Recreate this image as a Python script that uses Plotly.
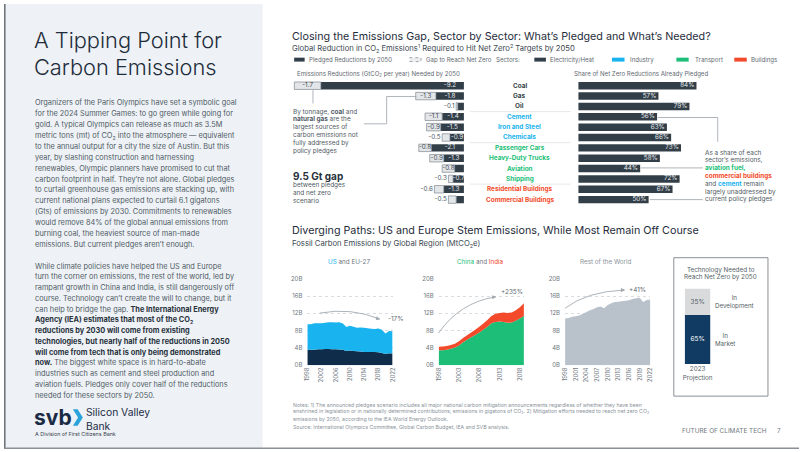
import plotly.graph_objects as go

W, H = 802, 452
def X(px): return px / W
def Y(py): return 1 - py / H

# ---------------- data ----------------
rows = ["Coal", "Gas", "Oil", "Cement", "Iron and Steel", "Chemicals",
        "Passenger Cars", "Heavy-Duty Trucks", "Aviation", "Shipping",
        "Residential Buildings", "Commercial Buildings"]
row_sector = ["Electricity/Heat"] * 3 + ["Industry"] * 3 + ["Transport"] * 4 + ["Buildings"] * 2
pledged = [9.2, 1.8, 0.4, 1.4, 1.5, 0.9, 2.1, 1.3, 0.6, 0.7, 1.3, 0.5]
gap = [1.7, 1.3, 0.1, 1.1, 0.9, 0.5, 0.8, 0.9, 0.8, 0.3, 0.6, 0.5]
share_pledged = [84, 57, 79, 56, 63, 66, 73, 58, 44, 72, 67, 50]

years_us_eu = list(range(1998, 2023))
eu27 = [3.6, 3.6, 3.6, 3.7, 3.7, 3.75, 3.75, 3.7, 3.7, 3.65, 3.6, 3.3, 3.4, 3.3, 3.25,
        3.2, 3.05, 3.1, 3.1, 3.1, 3.0, 2.85, 2.6, 2.8, 2.75]
us = [5.9, 5.9, 6.1, 6.0, 6.0, 6.05, 6.2, 6.25, 6.2, 6.3, 6.05, 5.55, 5.75, 5.6, 5.45,
      5.55, 5.6, 5.45, 5.35, 5.3, 5.5, 5.35, 4.75, 5.15, 5.1]

years_cn_in = list(range(1998, 2020))
china = [3.5, 3.5, 3.6, 3.8, 4.1, 4.6, 5.3, 5.9, 6.5, 7.0, 7.6, 8.2, 8.9, 9.7, 10.0,
         10.1, 10.0, 9.8, 9.9, 10.3, 10.8, 11.4]
india = [0.8, 0.85, 0.85, 0.9, 0.9, 0.95, 1.0, 1.05, 1.1, 1.2, 1.3, 1.45, 1.55, 1.7,
         1.9, 2.0, 2.2, 2.3, 2.3, 2.4, 2.6, 2.9]

years_row = list(range(1998, 2023))
rest_world = [10.8, 10.9, 11.2, 11.3, 11.5, 11.9, 12.3, 12.7, 13.0, 13.4, 13.6, 13.2,
              13.9, 14.3, 14.6, 14.7, 14.8, 14.9, 15.0, 15.3, 15.5, 15.6, 14.6, 15.1, 15.2]

tech_cats = ["2023<br>Projection"]
in_market = [65]
in_development = [35]

# ---------------- styles ----------------
BODY = "Inter"
DARK = "#323f49"
NAVY = "#0f2d4a"
NAVY2 = "#123b63"
LBLUE = "#19b3ef"
GREEN = "#1dbf78"
RED = "#f24a2a"
GRAYAREA = "#b9c2cb"
TXT = "#4f5a64"
TITLE = "#1f2d3b"
sector_color = {"Electricity/Heat": "#333f48", "Industry": LBLUE,
                "Transport": GREEN, "Buildings": RED}

fig = go.Figure()

# ---------- left bar chart: reductions ----------
neg_p = [-v for v in pledged]
fig.add_trace(go.Bar(y=rows, x=neg_p, orientation="h", xaxis="x", yaxis="y",
                     marker=dict(color=DARK, line=dict(width=0)), width=0.72,
                     hoverinfo="skip", showlegend=False))
fig.add_trace(go.Bar(y=rows, x=[-v for v in gap], base=neg_p, orientation="h",
                     xaxis="x", yaxis="y", width=0.72,
                     marker=dict(color="#e3e6e9", line=dict(color="#7f878f", width=0.7)),
                     hoverinfo="skip", showlegend=False))
pl_rows = [r for r, p in zip(rows, pledged) if p >= 0.65]
pl_x = [-min(p, 1.8) / 2 for p in pledged if p >= 0.65]
pl_t = [f"-{p:.1f}" for p in pledged if p >= 0.65]
fig.add_trace(go.Scatter(y=pl_rows, x=pl_x, mode="text", text=pl_t, xaxis="x", yaxis="y",
                         textposition="middle center", cliponaxis=False,
                         textfont=dict(size=6.3, color="#e8ebee", family=BODY),
                         hoverinfo="skip", showlegend=False))
gi_rows = [r for r, g in zip(rows, gap) if g >= 0.8]
gi_x = [-(p + g / 2) for p, g in zip(pledged, gap) if g >= 0.8]
gi_t = [f"-{g:.1f}" for g in gap if g >= 0.8]
fig.add_trace(go.Scatter(y=gi_rows, x=gi_x, mode="text", text=gi_t, xaxis="x", yaxis="y",
                         textposition="middle center", cliponaxis=False,
                         textfont=dict(size=6.3, color="#3e4851", family=BODY),
                         hoverinfo="skip", showlegend=False))
go_rows = [r for r, g in zip(rows, gap) if g < 0.8]
go_x = [-(p + g) - 0.1 for p, g in zip(pledged, gap) if g < 0.8]
go_t = [f"-{g:.1f}" for g in gap if g < 0.8]
fig.add_trace(go.Scatter(y=go_rows, x=go_x, mode="text", text=go_t, xaxis="x", yaxis="y",
                         textposition="middle left", cliponaxis=False,
                         textfont=dict(size=6.3, color="#4a545d", family=BODY),
                         hoverinfo="skip", showlegend=False))

# ---------- right bar chart: share pledged ----------
fig.add_trace(go.Bar(y=rows, x=share_pledged, orientation="h", xaxis="x2", yaxis="y2",
                     marker=dict(color=DARK, line=dict(width=0)), width=0.72,
                     hoverinfo="skip", showlegend=False))
fig.add_trace(go.Scatter(y=rows, x=[s - 1.5 for s in share_pledged], mode="text",
                         text=[f"{s}%" for s in share_pledged], xaxis="x2", yaxis="y2",
                         textposition="middle left", cliponaxis=False,
                         textfont=dict(size=6.3, color="#e8ebee", family=BODY),
                         hoverinfo="skip", showlegend=False))

# ---------- area charts ----------
fig.add_trace(go.Scatter(x=years_us_eu, y=eu27, stackgroup="a", mode="none",
                         fillcolor=NAVY, xaxis="x3", yaxis="y3", hoverinfo="skip", showlegend=False))
fig.add_trace(go.Scatter(x=years_us_eu, y=us, stackgroup="a", mode="none",
                         fillcolor=LBLUE, xaxis="x3", yaxis="y3", hoverinfo="skip", showlegend=False))
fig.add_trace(go.Scatter(x=years_cn_in, y=china, stackgroup="b", mode="none",
                         fillcolor=GREEN, xaxis="x4", yaxis="y4", hoverinfo="skip", showlegend=False))
fig.add_trace(go.Scatter(x=years_cn_in, y=india, stackgroup="b", mode="none",
                         fillcolor=RED, xaxis="x4", yaxis="y4", hoverinfo="skip", showlegend=False))
fig.add_trace(go.Scatter(x=years_row, y=rest_world, stackgroup="c", mode="none",
                         fillcolor=GRAYAREA, xaxis="x5", yaxis="y5", hoverinfo="skip", showlegend=False))

# ---------- tech stacked bar ----------
fig.add_trace(go.Bar(x=tech_cats, y=in_market, xaxis="x6", yaxis="y6", width=1,
                     marker=dict(color=NAVY2, line=dict(width=0)),
                     text=[f"{v}%" for v in in_market], textposition="inside",
                     insidetextanchor="middle", constraintext="none",
                     textfont=dict(size=6.5, color="#ffffff", family=BODY),
                     hoverinfo="skip", showlegend=False))
fig.add_trace(go.Bar(x=tech_cats, y=in_development, base=in_market, xaxis="x6", yaxis="y6", width=1,
                     marker=dict(color="#d9dadc", line=dict(width=0)),
                     text=[f"{v}%" for v in in_development], textposition="inside",
                     insidetextanchor="middle", constraintext="none",
                     textfont=dict(size=6.5, color="#555f68", family=BODY),
                     hoverinfo="skip", showlegend=False))

# ---------- axes ----------
row_top, row_bot = 77.74, 203.98
hidden = dict(visible=False, fixedrange=True)
cat_y = dict(type="category", categoryorder="array", categoryarray=rows,
             range=[11.5, -0.5], visible=False, fixedrange=True,
             domain=[Y(row_bot), Y(row_top)])
tickfont = dict(size=6, color="#6f7880", family=BODY)

def area_x(d0, d1, r, dtick):
    return dict(domain=[X(d0), X(d1)], range=r, tickmode="linear", tick0=1998, dtick=dtick,
                tickangle=-90, tickfont=tickfont, showgrid=False, zeroline=False,
                showline=False, ticks="", fixedrange=True)

def area_y(anchor):
    return dict(domain=[Y(367), Y(279)], range=[0, 20], tickvals=[0, 4, 8, 12, 16, 20],
                ticktext=["0B", "4B", "8B", "12B", "16B", "20B"], tickfont=tickfont,
                showgrid=True, gridcolor="#d9dde2", griddash="dot", gridwidth=0.7,
                zeroline=False, showline=False, ticks="", ticklabelstandoff=4,
                anchor=anchor, fixedrange=True)

fig.update_layout(
    width=W, height=H, margin=dict(l=0, r=0, t=0, b=0),
    paper_bgcolor="white", plot_bgcolor="rgba(0,0,0,0)",
    barmode="overlay", showlegend=False,
    font=dict(family=BODY, color=TXT),
    xaxis=dict(domain=[X(283.5), X(464)], range=[-11.5, 0], anchor="y", **hidden),
    yaxis=dict(anchor="x", **cat_y),
    xaxis2=dict(domain=[X(579.3), X(721.3)], range=[0, 100], anchor="y2", **hidden),
    yaxis2=dict(anchor="x2", **cat_y),
    xaxis3=dict(anchor="y3", **area_x(306, 392, [1998, 2022], 4)),
    yaxis3=area_y("x3"),
    xaxis4=dict(anchor="y4", **area_x(438.5, 524.5, [1998, 2019], 5)),
    yaxis4=area_y("x4"),
    xaxis5=dict(anchor="y5", **area_x(566, 652, [1998, 2022], 3)),
    yaxis5=area_y("x5"),
    xaxis6=dict(domain=[X(686.7), X(712.7)], type="category", range=[-0.5, 0.5], anchor="y6",
                tickfont=dict(size=6.3, color="#555f68", family=BODY), ticks="",
                showgrid=False, showline=False, zeroline=False, fixedrange=True),
    yaxis6=dict(domain=[Y(365.7), Y(289)], range=[0, 100], anchor="x6", **hidden),
)

shapes = []
shapes.append(dict(type="rect", xref="paper", yref="paper", x0=0, x1=X(261), y0=0, y1=1,
                   fillcolor="#eef2f6", line=dict(width=0), layer="below"))
shapes.append(dict(type="line", xref="paper", yref="paper", x0=X(0.8), x1=X(0.8), y0=0, y1=1,
                   line=dict(color="#6f757b", width=1.6)))
shapes.append(dict(type="line", xref="paper", yref="paper", x0=0, x1=1, y0=Y(451.2), y1=Y(451.2),
                   line=dict(color="#8a9096", width=1.6)))

for yv in [2.5, 5.5, 9.5]:
    shapes.append(dict(type="line", xref="paper", yref="y", x0=X(470), x1=X(572), y0=yv, y1=yv,
                       line=dict(color="#d3d7db", width=0.6)))

def path(pts):
    return "M " + " L ".join(f"{X(a):.5f},{Y(b):.5f}" for a, b in pts)

conn = dict(color="#9aa1a8", width=0.8)
shapes.append(dict(type="path", xref="paper", yref="paper", path=path([(311.7, 87.5), (311.7, 101)]), line=conn))
shapes.append(dict(type="path", xref="paper", yref="paper",
                   path=path([(363, 121.7), (386, 121.7), (386, 94), (416, 94)]), line=conn))
shapes.append(dict(type="path", xref="paper", yref="paper",
                   path=path([(659.5, 115.3), (720, 115.3), (720, 140)]), line=conn))
shapes.append(dict(type="path", xref="paper", yref="paper",
                   path=path([(642.5, 166.5), (705, 166.5)]), line=conn))
shapes.append(dict(type="path", xref="paper", yref="paper",
                   path=path([(651.5, 198.7), (705, 198.7)]), line=conn))

def rect(x0, x1, y0, y1, fill, line=None):
    shapes.append(dict(type="rect", xref="paper", yref="paper", x0=X(x0), x1=X(x1), y0=Y(y1), y1=Y(y0),
                       fillcolor=fill, line=line or dict(width=0)))
LY = 56.5
rect(292.7, 303.3, LY - 2, LY + 2, DARK)
rect(409.3, 420.7, LY - 2, LY + 2, "#eceef0", dict(color="#7f878f", width=0.7, dash="dot"))
rect(535, 546.7, LY - 2, LY + 2, DARK)
rect(613.3, 626, LY - 2, LY + 2, LBLUE)
rect(678.3, 690.7, LY - 2, LY + 2, GREEN)
rect(736.7, 749.3, LY - 2, LY + 2, RED)

shapes.append(dict(type="rect", xref="paper", yref="paper", x0=X(675.7), x1=X(770.7),
                   y0=Y(398.3), y1=Y(257.7), line=dict(color="#8a9096", width=1), fillcolor="rgba(0,0,0,0)"))

arrow_line = dict(color="#a3aab1", width=0.9)
def qpath(p0, c, p1):
    return (f"M {X(p0[0]):.5f},{Y(p0[1]):.5f} Q {X(c[0]):.5f},{Y(c[1]):.5f} "
            f"{X(p1[0]):.5f},{Y(p1[1]):.5f}")
shapes.append(dict(type="path", xref="paper", yref="paper", path=qpath((318.3, 314), (350, 308), (379, 320)), line=arrow_line))
shapes.append(dict(type="path", xref="paper", yref="paper", path=qpath((438.3, 334.3), (460, 303), (496, 297.5)), line=arrow_line))
shapes.append(dict(type="path", xref="paper", yref="paper", path=qpath((566, 309), (588, 292), (626, 290.5)), line=arrow_line))

shapes.append(dict(type="path", xref="paper", yref="paper",
                   path=path([(69.5, 411.5), (74.3, 411.5), (79.5, 420), (74.3, 428.5), (69.5, 428.5), (74.7, 420)]) + " Z",
                   fillcolor="#2aa3dc", line=dict(width=0)))

fig.update_layout(shapes=shapes)

# ---------- annotations ----------
def t(x, y, s, size, color=TXT, anchor="left", family=BODY, yref="paper", weight=None, yanchor="middle"):
    f = dict(size=size, color=color, family=family)
    if weight:
        f["weight"] = weight
    fig.add_annotation(x=X(x), y=Y(y) if yref == "paper" else y,
                       xref="paper", yref=yref, text=s, showarrow=False, xanchor=anchor,
                       yanchor=yanchor, font=f, borderpad=0)

def lines(x, y0, dy, lst, size, color=TXT, anchor="left"):
    for i, s in enumerate(lst):
        t(x, y0 + i * dy, s, size, color, anchor)

# left panel
t(29.5, 37, "A Tipping Point for", 21.8, TITLE, weight=300)
t(29.5, 63.5, "Carbon Emissions", 21.8, TITLE, weight=300)
p1 = ["Organizers of the Paris Olympics have set a symbolic goal",
      "for the 2024 Summer Games: to go green while going for",
      "gold. A typical Olympics can release as much as 3.5M",
      "metric tons (mt) of CO<sub>2</sub> into the atmosphere — equivalent",
      "to the annual output for a city the size of Austin. But this",
      "year, by slashing construction and harnessing",
      "renewables, Olympic planners have promised to cut that",
      "carbon footprint in half. They’re not alone. Global pledges",
      "to curtail greenhouse gas emissions are stacking up, with",
      "current national plans expected to curtail 6.1 gigatons",
      "(Gts) of emissions by 2030. Commitments to renewables",
      "would remove 84% of the global annual emissions from",
      "burning coal, the heaviest source of man-made",
      "emissions. But current pledges aren’t enough."]
lines(30, 100.5, 11.05, p1, 7.35)
B = "<b style='color:#27313b'>"
p2 = ["While climate policies have helped the US and Europe",
      "turn the corner on emissions, the rest of the world, led by",
      "rampant growth in China and India, is still dangerously off",
      "course. Technology can’t create the will to change, but it",
      "can help to bridge the gap. " + B + "The International Energy</b>",
      B + "Agency (IEA) estimates that most of the CO<sub>2</sub></b>",
      B + "reductions by 2030 will come from existing</b>",
      B + "technologies, but nearly half of the reductions in 2050</b>",
      B + "will come from tech that is only being demonstrated</b>",
      B + "now.</b> The biggest white space is in hard-to-abate",
      "industries such as cement and steel production and",
      "aviation fuels. Pledges only cover half of the reductions",
      "needed for these sectors by 2050."]
lines(30, 266.2, 10.92, p2, 7.35)
t(29, 419.5, "<b>svb</b>", 21, "#1b2b45")
t(81.5, 421.2, "Silicon Valley", 10.3, "#1b2b45", yanchor="bottom")
t(81.5, 421.2, "Bank", 10.3, "#1b2b45", yanchor="top")
t(30, 436.5, "A Division of First Citizens Bank", 5.4, "#3a4450")

# top-right titles
t(289.5, 33.5, "Closing the Emissions Gap, Sector by Sector: What’s Pledged and What’s Needed?", 10.75, TITLE)
t(289.5, 45.3, "Global Reduction in CO<sub>2</sub> Emissions<sup>1</sup> Required to Hit Net Zero<sup>2</sup> Targets by 2050", 7.7, "#3d4852")
LG = "#5f6972"
LS = 6.1
t(306.5, LY, "Pledged Reductions by 2050", LS, LG)
t(424.5, LY, "Gap to Reach Net Zero", LS, LG)
t(495.5, LY, "Sectors:", LS, LG)
t(549.5, LY, "Electricity/Heat", LS, LG)
t(631, LY, "Industry", LS, LG)
t(696, LY, "Transport", LS, LG)
t(753, LY, "Buildings", LS, LG)
t(294.5, 71, "Emissions Reductions (GtCO<sub>2</sub> per year) Needed by 2050", LS, LG)
t(574.5, 71, "Share of Net Zero Reductions Already Pledged", LS, LG)

for r, s in zip(rows, row_sector):
    t(520.5, r, f"<b>{r}</b>", 6.4, sector_color[s], anchor="center", yref="y")

lines(291, 109.3, 7.95, ["By tonnage, <b>coal</b> and",
                         "<b>natural gas</b> are the",
                         "largest sources of",
                         "carbon emissions not",
                         "fully addressed by",
                         "policy pledges"], 6.4, "#505b65")
t(291, 175, "<b>9.5 Gt gap</b>", 10, "#27313b")
lines(291, 184.3, 8, ["between pledges", "and net zero", "scenario"], 6.4, "#505b65")

lines(706.5, 151, 7.9, ["As a share of each",
                        "sector’s emissions,",
                        f"<b style='color:{GREEN}'>aviation fuel,</b>",
                        f"<b style='color:{RED}'>commercial buildings</b>",
                        f"and <b style='color:{LBLUE}'>cement</b> remain",
                        "largely unaddressed by",
                        "current policy pledges"], 6.4, "#505b65")

# second section
t(289.5, 230.5, "Diverging Paths: US and Europe Stem Emissions, While Most Remain Off Course", 10.75, TITLE)
t(289.5, 243.3, "Fossil Carbon Emissions by Global Region (MtCO<sub>2</sub>e)", 7.7, "#3d4852")
t(348, 261.7, f"<span style='color:{LBLUE}'>US</span> and EU-27", 6.3, "#6f7880", anchor="center")
t(481, 261.7, f"<span style='color:{GREEN}'>China</span> and <span style='color:{RED}'>India</span>", 6.3, "#6f7880", anchor="center")
t(607.3, 261.7, "Rest of the World", 6.3, "#8a939b", anchor="center")

for (ex, ey, ax, ay) in [(379.5, 320.2, -6, -1.5), (496.5, 297.4, -6, 0.8), (626.5, 290.5, -6, 0.2)]:
    fig.add_annotation(x=X(ex), y=Y(ey), xref="paper", yref="paper", ax=ax, ay=ay, text="",
                       showarrow=True, arrowhead=2, arrowsize=0.9, arrowwidth=0.9, arrowcolor="#a3aab1")
t(386, 320, "-17%", 6.4, "#5f6972")
t(500, 292.3, "+235%", 6.4, "#5f6972")
t(629, 290, "+41%", 6.4, "#5f6972")

lines(723, 270, 7.7, ["Technology Needed to", "Reach Net Zero by 2050"], 6.3, "#555f68", anchor="center")
t(716.5, in_market[0] + in_development[0] / 2, "In<br>Development", 6.2, "#555f68", yref="y6")
t(716.5, in_market[0] / 2, "In<br>Market", 6.2, "#555f68", yref="y6")

NC = "#8a939b"
lines(291, 407.3, 7, ["Notes: 1) The announced pledges scenario includes all major national carbon mitigation announcements regardless of whether they have been",
                      "enshrined in legislation or in nationally determined contributions; emissions in gigatons of CO<sub>2</sub>. 2) Mitigation efforts needed to reach net zero CO<sub>2</sub>",
                      "emissions by 2050, according to the IEA World Energy Outlook."], 5.2, NC)
t(291, 429.5, "Source: International Olympics Committee, Global Carbon Budget, IEA and SVB analysis.", 5.2, NC)
t(683, 434, "FUTURE OF CLIMATE TECH", 6.4, "#6f7880")
t(778.5, 434, "7", 6.4, "#6f7880")

fig.write_html("out.html")
